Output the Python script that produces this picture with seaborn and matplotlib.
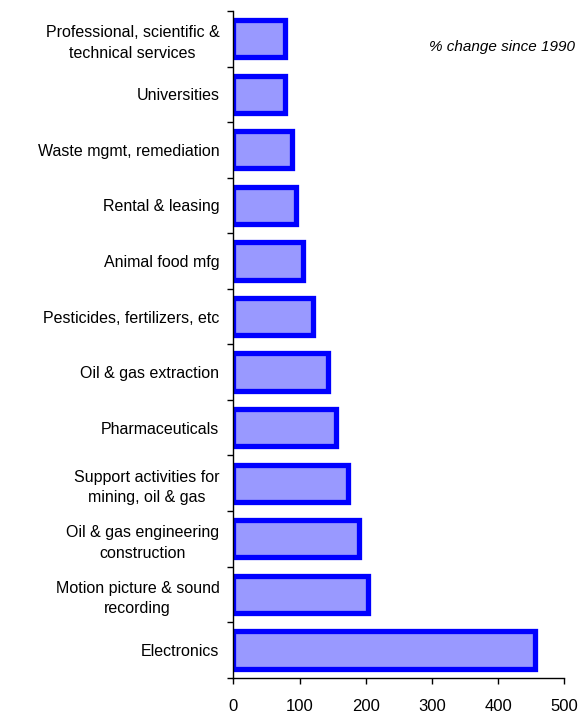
import numpy as np
import matplotlib.pyplot as plt
import seaborn as sns
import pandas as pd

# industries, top to bottom
industries = [
    "Professional, scientific &\ntechnical services",
    "Universities",
    "Waste mgmt, remediation",
    "Rental & leasing",
    "Animal food mfg",
    "Pesticides, fertilizers, etc",
    "Oil & gas extraction",
    "Pharmaceuticals",
    "Support activities for\nmining, oil & gas",
    "Oil & gas engineering\nconstruction",
    "Motion picture & sound\nrecording",
    "Electronics",
]
pct_change = [78, 78, 88, 94, 105, 121, 143, 155, 174, 190, 204, 456]
x_ticks = [0, 100, 200, 300, 400, 500]

df = pd.DataFrame({"industry": industries, "change": pct_change})

sns.set_style("ticks")
plt.rcParams['font.family'] = ['Liberation Sans', 'DejaVu Sans']
plt.rcParams['text.color'] = 'black'
plt.rcParams['xtick.color'] = 'black'
plt.rcParams['ytick.color'] = 'black'

fig = plt.figure(figsize=(5.84, 7.12), dpi=100)
ax = fig.add_axes([0.3995, 0.0482, 0.5668, 0.9364])

sns.barplot(data=df, x="change", y="industry", orient="h", order=industries,
            color="#9999ff", saturation=1, width=0.67,
            edgecolor="#0000ff", linewidth=3.8, ax=ax)

ax.set_xlim(0, 500)
ax.set_ylim(len(industries) - 0.5, -0.5)
ax.set_xticks(x_ticks)
ax.set_xticklabels([str(t) for t in x_ticks], fontsize=12)

# category labels at centres, tick marks at the boundaries
ax.set_yticks(np.arange(len(industries)))
ax.set_yticklabels(industries, fontsize=11.5, ha="right", multialignment="center",
                   linespacing=1.45)
ax.tick_params(axis="y", which="major", length=0, pad=10)
ax.set_yticks(np.arange(-0.5, len(industries), 1), minor=True)
ax.tick_params(axis="y", which="minor", length=4, width=1, direction="out")
ax.tick_params(axis="x", length=4, width=1, direction="out", pad=11)

ax.set_xlabel("")
ax.set_ylabel("")
sns.despine(ax=ax)
for s in ["left", "bottom"]:
    ax.spines[s].set_linewidth(1)
    ax.spines[s].set_color("black")

ax.text(1.032, 0.946, "% change since 1990", transform=ax.transAxes,
        ha="right", va="center", fontsize=11, style="italic")

fig.savefig("out.png", dpi=100)
